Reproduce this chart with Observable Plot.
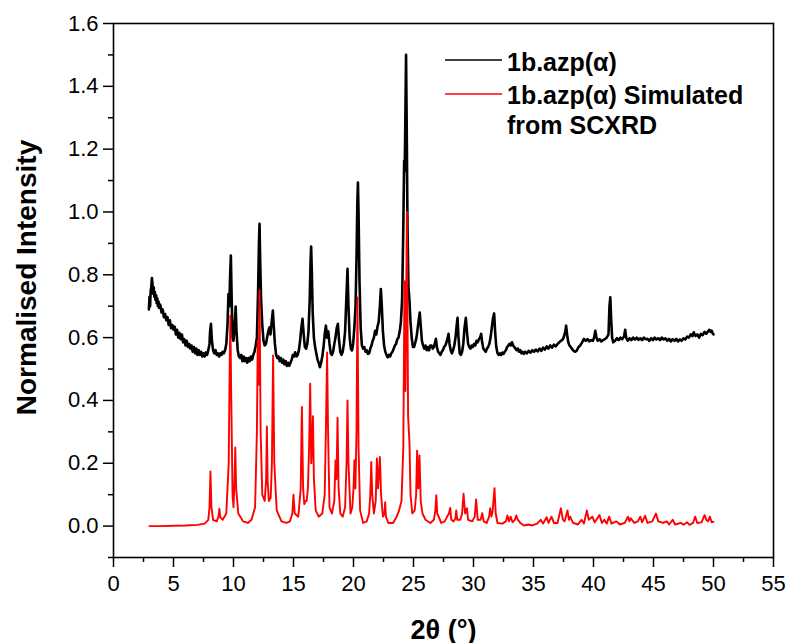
<!DOCTYPE html>
<html>
<head>
<meta charset="utf-8">
<script src="https://cdn.jsdelivr.net/npm/d3@7"></script>
<script src="https://cdn.jsdelivr.net/npm/@observablehq/plot@0.6"></script>
<style>
  html, body { margin: 0; padding: 0; background: #fff; }
  #chart { width: 790px; height: 643px; }
</style>
</head>
<body>
<div id="chart"></div>
<script>
// ---- data (2θ in degrees, normalised intensity) ----
const experimental = [
  [2.95,0.69],[3.0,0.73],[3.05,0.70],[3.1,0.75],[3.15,0.76],[3.2,0.79],[3.25,0.77],[3.3,0.74],[3.35,0.76],[3.4,0.73],
  [3.45,0.745],[3.5,0.72],[3.55,0.735],[3.6,0.71],[3.65,0.725],[3.7,0.70],[3.75,0.715],[3.8,0.695],[3.9,0.705],[4.0,0.68],
  [4.1,0.69],[4.2,0.665],[4.3,0.675],[4.4,0.655],[4.5,0.665],[4.6,0.64],[4.7,0.655],[4.8,0.63],[4.9,0.64],[5.0,0.625],
  [5.1,0.635],[5.2,0.61],[5.3,0.625],[5.4,0.60],[5.5,0.615],[5.6,0.595],[5.7,0.61],[5.8,0.585],[5.9,0.595],[6.0,0.575],
  [6.1,0.59],[6.2,0.57],[6.3,0.58],[6.4,0.565],[6.5,0.575],[6.6,0.555],[6.7,0.57],[6.8,0.55],[6.9,0.565],[7.0,0.545],
  [7.1,0.56],[7.2,0.545],[7.3,0.555],[7.4,0.54],[7.5,0.55],[7.6,0.54],[7.7,0.553],[7.8,0.545],[7.9,0.56],[8.0,0.58],
  [8.05,0.62],[8.12,0.644],[8.2,0.59],[8.3,0.56],[8.4,0.55],[8.5,0.56],[8.6,0.545],[8.7,0.55],[8.8,0.54],[8.9,0.55],
  [9.0,0.545],[9.1,0.555],[9.2,0.55],[9.3,0.56],[9.4,0.58],[9.5,0.64],[9.58,0.739],[9.65,0.70],[9.72,0.80],[9.78,0.861],
  [9.85,0.72],[9.92,0.60],[10.0,0.59],[10.1,0.64],[10.18,0.699],[10.25,0.62],[10.35,0.56],[10.45,0.54],[10.55,0.535],[10.65,0.545],
  [10.75,0.525],[10.85,0.54],[10.95,0.525],[11.05,0.535],[11.15,0.52],[11.25,0.535],[11.35,0.525],[11.45,0.54],[11.55,0.53],[11.65,0.545],
  [11.75,0.555],[11.85,0.575],[11.95,0.60],[12.05,0.75],[12.12,0.90],[12.17,0.962],[12.22,0.85],[12.3,0.72],[12.4,0.64],[12.5,0.59],
  [12.6,0.575],[12.7,0.58],[12.8,0.60],[12.9,0.62],[13.0,0.633],[13.08,0.61],[13.18,0.65],[13.28,0.686],[13.35,0.64],[13.45,0.58],
  [13.55,0.545],[13.65,0.535],[13.75,0.54],[13.85,0.525],[13.95,0.535],[14.05,0.52],[14.15,0.53],[14.25,0.515],[14.35,0.525],[14.45,0.51],
  [14.55,0.52],[14.65,0.51],[14.75,0.52],[14.85,0.53],[14.95,0.545],[15.05,0.54],[15.14,0.553],[15.25,0.54],[15.35,0.545],[15.45,0.56],
  [15.55,0.59],[15.65,0.63],[15.75,0.66],[15.85,0.61],[15.95,0.57],[16.05,0.565],[16.15,0.58],[16.25,0.62],[16.35,0.72],[16.42,0.84],
  [16.47,0.89],[16.52,0.82],[16.6,0.68],[16.7,0.60],[16.8,0.57],[16.9,0.55],[17.0,0.53],[17.1,0.52],[17.2,0.506],[17.3,0.52],
  [17.4,0.54],[17.5,0.57],[17.6,0.61],[17.7,0.638],[17.8,0.60],[17.9,0.62],[18.0,0.58],[18.1,0.55],[18.2,0.545],[18.3,0.555],
  [18.4,0.58],[18.5,0.60],[18.6,0.63],[18.7,0.644],[18.8,0.59],[18.9,0.555],[19.0,0.545],[19.1,0.555],[19.2,0.58],[19.3,0.62],
  [19.4,0.72],[19.5,0.819],[19.58,0.70],[19.68,0.60],[19.78,0.565],[19.87,0.559],[19.97,0.58],[20.07,0.63],[20.17,0.70],[20.25,0.85],
  [20.32,1.03],[20.37,1.094],[20.42,1.0],[20.5,0.78],[20.6,0.63],[20.7,0.575],[20.8,0.565],[20.9,0.57],[21.0,0.555],[21.1,0.56],
  [21.2,0.548],[21.3,0.55],[21.4,0.565],[21.5,0.575],[21.6,0.59],[21.7,0.60],[21.8,0.622],[21.9,0.61],[22.0,0.635],[22.1,0.65],
  [22.2,0.70],[22.28,0.755],[22.36,0.70],[22.45,0.62],[22.55,0.575],[22.65,0.555],[22.75,0.545],[22.85,0.537],[22.95,0.545],[23.05,0.54],
  [23.15,0.55],[23.25,0.555],[23.35,0.565],[23.45,0.575],[23.55,0.58],[23.65,0.595],[23.75,0.60],[23.85,0.62],[23.95,0.65],[24.05,0.72],
  [24.15,0.95],[24.22,1.163],[24.27,1.13],[24.32,1.30],[24.38,1.50],[24.44,1.25],[24.5,0.95],[24.58,0.76],[24.66,0.72],[24.75,0.65],
  [24.85,0.60],[24.95,0.57],[25.05,0.57],[25.15,0.585],[25.25,0.60],[25.35,0.63],[25.45,0.66],[25.52,0.68],[25.6,0.64],[25.7,0.59],
  [25.8,0.575],[25.9,0.565],[26.0,0.575],[26.1,0.56],[26.2,0.57],[26.3,0.56],[26.4,0.575],[26.5,0.575],[26.6,0.565],[26.7,0.57],
  [26.8,0.585],[26.87,0.596],[26.95,0.57],[27.05,0.555],[27.15,0.55],[27.25,0.545],[27.35,0.555],[27.45,0.56],[27.55,0.57],[27.65,0.575],
  [27.75,0.585],[27.85,0.60],[27.92,0.612],[28.0,0.58],[28.1,0.56],[28.2,0.55],[28.3,0.56],[28.4,0.575],[28.5,0.60],[28.6,0.64],
  [28.67,0.663],[28.75,0.60],[28.85,0.55],[28.95,0.545],[29.05,0.555],[29.15,0.58],[29.25,0.63],[29.36,0.663],[29.45,0.62],[29.55,0.58],
  [29.65,0.57],[29.75,0.565],[29.85,0.575],[29.95,0.57],[30.05,0.58],[30.15,0.575],[30.25,0.59],[30.35,0.585],[30.45,0.595],[30.55,0.60],
  [30.64,0.612],[30.72,0.585],[30.82,0.565],[30.92,0.56],[31.02,0.555],[31.12,0.565],[31.22,0.57],[31.32,0.58],[31.42,0.60],[31.52,0.63],
  [31.62,0.66],[31.72,0.677],[31.8,0.62],[31.9,0.57],[32.0,0.55],[32.1,0.545],[32.2,0.55],[32.3,0.545],[32.4,0.552],[32.5,0.548],
  [32.6,0.555],[32.7,0.56],[32.8,0.57],[32.9,0.575],[33.0,0.58],[33.1,0.575],[33.2,0.585],[33.3,0.575],[33.4,0.57],[33.5,0.565],
  [33.6,0.56],[33.7,0.565],[33.8,0.555],[33.9,0.56],[34.0,0.55],[34.1,0.555],[34.2,0.548],[34.3,0.555],[34.45,0.55],[34.6,0.558],
  [34.75,0.552],[34.9,0.56],[35.05,0.555],[35.2,0.562],[35.35,0.556],[35.5,0.565],[35.65,0.558],[35.8,0.568],[35.95,0.562],[36.1,0.572],
  [36.25,0.565],[36.4,0.575],[36.55,0.568],[36.7,0.578],[36.85,0.572],[37.0,0.58],[37.15,0.585],[37.3,0.59],[37.45,0.595],[37.55,0.605],
  [37.65,0.62],[37.72,0.638],[37.8,0.61],[37.9,0.585],[38.0,0.575],[38.1,0.57],[38.2,0.565],[38.3,0.56],[38.45,0.555],[38.6,0.558],
  [38.75,0.57],[38.9,0.575],[39.05,0.585],[39.2,0.596],[39.35,0.59],[39.5,0.595],[39.65,0.588],[39.8,0.592],[39.95,0.59],[40.05,0.60],
  [40.15,0.622],[40.25,0.60],[40.35,0.59],[40.5,0.595],[40.65,0.588],[40.8,0.592],[40.95,0.595],[41.1,0.60],[41.25,0.61],[41.33,0.70],
  [41.4,0.728],[41.47,0.66],[41.55,0.60],[41.65,0.585],[41.8,0.59],[41.95,0.598],[42.1,0.592],[42.25,0.60],[42.4,0.595],[42.55,0.605],
  [42.64,0.625],[42.72,0.60],[42.85,0.59],[43.0,0.598],[43.15,0.592],[43.3,0.60],[43.45,0.594],[43.6,0.60],[43.75,0.593],[43.9,0.598],
  [44.05,0.592],[44.2,0.60],[44.35,0.595],[44.5,0.596],[44.65,0.59],[44.8,0.598],[44.95,0.592],[45.1,0.60],[45.25,0.594],[45.4,0.598],
  [45.55,0.592],[45.7,0.60],[45.85,0.594],[46.0,0.598],[46.15,0.59],[46.3,0.596],[46.45,0.588],[46.6,0.595],[46.75,0.59],[46.9,0.596],
  [47.05,0.588],[47.2,0.594],[47.35,0.59],[47.5,0.598],[47.65,0.594],[47.8,0.603],[47.95,0.60],[48.1,0.61],[48.25,0.605],[48.35,0.617],
  [48.5,0.605],[48.65,0.61],[48.8,0.60],[48.95,0.612],[49.1,0.608],[49.25,0.618],[49.4,0.612],[49.55,0.62],[49.65,0.625],[49.75,0.618],
  [49.85,0.622],[49.95,0.612],[50.0,0.61]
];

const simulated = [
  [3.0,0.0],[4.0,0.0],[5.0,0.001],[6.0,0.002],[7.0,0.004],[7.6,0.008],[7.9,0.02],[8.0,0.06],[8.08,0.174],[8.16,0.06],
  [8.3,0.02],[8.6,0.015],[8.75,0.03],[8.82,0.055],[8.9,0.028],[9.1,0.02],[9.4,0.04],[9.6,0.20],[9.68,0.50],[9.74,0.67],
  [9.8,0.45],[9.92,0.10],[10.0,0.06],[10.08,0.14],[10.15,0.25],[10.22,0.12],[10.4,0.04],[10.8,0.015],[11.2,0.01],[11.5,0.02],
  [11.8,0.06],[11.95,0.30],[12.02,0.59],[12.08,0.45],[12.17,0.75],[12.26,0.30],[12.4,0.10],[12.6,0.08],[12.72,0.15],[12.78,0.317],
  [12.85,0.14],[12.95,0.08],[13.1,0.09],[13.2,0.20],[13.3,0.543],[13.4,0.20],[13.6,0.05],[14.0,0.015],[14.4,0.01],[14.7,0.015],
  [14.9,0.04],[15.0,0.10],[15.1,0.04],[15.4,0.03],[15.6,0.12],[15.7,0.379],[15.8,0.12],[15.9,0.07],[16.0,0.08],[16.1,0.08],
  [16.2,0.12],[16.3,0.25],[16.39,0.453],[16.48,0.20],[16.55,0.25],[16.62,0.35],[16.7,0.15],[16.85,0.05],[17.1,0.03],[17.4,0.04],
  [17.6,0.10],[17.72,0.35],[17.8,0.553],[17.88,0.30],[18.0,0.06],[18.2,0.04],[18.4,0.08],[18.5,0.209],[18.58,0.15],[18.67,0.345],
  [18.76,0.12],[18.9,0.04],[19.1,0.03],[19.3,0.06],[19.42,0.20],[19.5,0.40],[19.58,0.20],[19.75,0.04],[19.9,0.06],[20.0,0.12],
  [20.08,0.21],[20.16,0.12],[20.25,0.30],[20.33,0.728],[20.42,0.25],[20.55,0.05],[20.8,0.01],[21.1,0.015],[21.3,0.04],[21.4,0.10],
  [21.48,0.204],[21.56,0.10],[21.7,0.04],[21.85,0.08],[21.95,0.215],[22.05,0.12],[22.2,0.22],[22.3,0.10],[22.45,0.03],[22.58,0.04],
  [22.64,0.076],[22.7,0.03],[22.9,0.01],[23.3,0.01],[23.6,0.03],[23.8,0.05],[24.0,0.08],[24.15,0.25],[24.25,0.78],[24.33,0.43],
  [24.45,1.0],[24.55,0.35],[24.67,0.26],[24.75,0.10],[24.9,0.04],[25.1,0.05],[25.22,0.10],[25.3,0.24],[25.4,0.12],[25.5,0.225],
  [25.6,0.08],[25.75,0.04],[26.0,0.02],[26.4,0.01],[26.7,0.02],[26.82,0.05],[26.9,0.098],[26.98,0.04],[27.1,0.03],[27.3,0.01],
  [27.6,0.015],[27.8,0.03],[27.95,0.04],[28.06,0.058],[28.15,0.02],[28.35,0.015],[28.5,0.025],[28.56,0.05],[28.65,0.02],[28.9,0.02],
  [29.05,0.04],[29.17,0.103],[29.3,0.04],[29.45,0.057],[29.55,0.02],[29.9,0.015],[30.1,0.03],[30.22,0.085],[30.35,0.02],[30.6,0.02],
  [30.73,0.041],[30.85,0.015],[31.1,0.01],[31.3,0.03],[31.39,0.057],[31.5,0.03],[31.6,0.05],[31.75,0.121],[31.85,0.04],[32.0,0.01],
  [32.4,0.008],[32.7,0.015],[32.83,0.034],[32.95,0.015],[33.1,0.03],[33.25,0.012],[33.45,0.02],[33.56,0.034],[33.7,0.02],[33.9,0.01],
  [34.2,0.002],[34.6,0.005],[34.9,0.002],[35.3,0.008],[35.6,0.02],[35.8,0.008],[36.1,0.028],[36.25,0.01],[36.5,0.03],[36.7,0.01],
  [37.0,0.01],[37.28,0.057],[37.45,0.02],[37.6,0.015],[37.83,0.05],[37.95,0.02],[38.05,0.03],[38.3,0.01],[38.7,0.005],[39.0,0.02],
  [39.2,0.008],[39.45,0.05],[39.6,0.02],[39.9,0.03],[40.1,0.012],[40.5,0.035],[40.7,0.01],[40.9,0.02],[41.1,0.008],[41.3,0.03],
  [41.5,0.008],[41.9,0.015],[42.2,0.005],[42.6,0.01],[42.87,0.03],[43.0,0.015],[43.1,0.025],[43.4,0.01],[43.7,0.015],[43.9,0.03],
  [44.05,0.012],[44.3,0.033],[44.5,0.01],[44.9,0.015],[45.2,0.04],[45.4,0.015],[45.8,0.01],[46.1,0.015],[46.3,0.005],[46.6,0.02],
  [46.8,0.005],[47.3,0.01],[47.5,0.004],[47.8,0.012],[48.0,0.004],[48.3,0.01],[48.47,0.03],[48.65,0.01],[49.0,0.012],[49.25,0.035],
  [49.4,0.02],[49.55,0.015],[49.7,0.03],[49.85,0.012],[50.0,0.014]
];

const xMajorTicks = [0, 5, 10, 15, 20, 25, 30, 35, 40, 45, 50, 55];
const xMinorTicks = [2.5, 7.5, 12.5, 17.5, 22.5, 27.5, 32.5, 37.5, 42.5, 47.5, 52.5];
const yMajorTicks = [0.0, 0.2, 0.4, 0.6, 0.8, 1.0, 1.2, 1.4, 1.6];
const yMinorTicks = [-0.1, 0.1, 0.3, 0.5, 0.7, 0.9, 1.1, 1.3, 1.5];

const seriesNames = ["1b.azp(\u03b1)", "1b.azp(\u03b1) Simulated", "from SCXRD"];
const seriesColors = ["#000000", "#ff0000"];
const xTitle = "2\u03b8 (\u00b0)";
const yTitle = "Normalised Intensity";

const FONT = "'Liberation Sans', Arial, Helvetica, sans-serif";
const yFmt = d3.format(".1f");

const chart = Plot.plot({
  width: 790,
  height: 643,
  marginLeft: 113,
  marginRight: 17,
  marginTop: 23,
  marginBottom: 86,
  style: { fontFamily: FONT, fontSize: "22px", background: "#fff", color: "#000", overflow: "visible" },
  x: { domain: [0, 55] },
  y: { domain: [-0.1, 1.6] },
  marks: [
    Plot.line(experimental, { x: d => d[0], y: d => d[1], stroke: seriesColors[0], strokeWidth: 2.6, strokeLinejoin: "round" }),
    Plot.line(simulated, { x: d => d[0], y: d => d[1], stroke: seriesColors[1], strokeWidth: 1.9, strokeLinejoin: "round" }),
    Plot.frame({ stroke: "#000", strokeWidth: 1.6 }),
    Plot.axisX(xMajorTicks, { tickSize: 10, tickPadding: 8, fontSize: 22, strokeWidth: 1.5, label: null, tickFormat: d => String(d) }),
    Plot.axisX(xMinorTicks, { tickSize: 5, strokeWidth: 1.5, label: null, tickFormat: () => "" }),
    Plot.axisY(yMajorTicks, { tickSize: 10, tickPadding: 5, fontSize: 22, strokeWidth: 1.5, label: null, tickFormat: yFmt }),
    Plot.axisY(yMinorTicks, { tickSize: 5, strokeWidth: 1.5, label: null, tickFormat: () => "" }),
    Plot.text([xTitle], { text: d => d, frameAnchor: "bottom", lineAnchor: "bottom", dy: 81, fontSize: 27, fontWeight: "bold" }),
    Plot.text([yTitle], { text: d => d, frameAnchor: "left", textAnchor: "middle", rotate: -90, dx: -86, dy: -13, fontSize: 28, fontWeight: "bold" })
  ]
});

document.getElementById("chart").appendChild(chart);

const svg = d3.select(chart);

// make sure tick labels get the intended size
const tickTexts = new Set([...xMajorTicks.map(String), ...yMajorTicks.map(yFmt)]);
svg.selectAll("text").filter(function () { return tickTexts.has(this.textContent); })
  .style("font-size", "22px").style("font-weight", "normal");

// ---- legend (layout element, drawn in screen space) ----
const lg = svg.append("g")
  .attr("font-family", FONT).attr("font-weight", "bold").attr("font-size", 25)
  .attr("fill", "#000").attr("text-anchor", "start");
lg.append("line").attr("x1", 445).attr("x2", 502).attr("y1", 60).attr("y2", 60).attr("stroke", seriesColors[0]).attr("stroke-width", 1.6);
lg.append("line").attr("x1", 445).attr("x2", 502).attr("y1", 94).attr("y2", 94).attr("stroke", seriesColors[1]).attr("stroke-width", 1.6);
lg.append("text").attr("x", 507).attr("y", 71).text(seriesNames[0]);
lg.append("text").attr("x", 507).attr("y", 103.5).text(seriesNames[1]);
lg.append("text").attr("x", 507).attr("y", 134).text(seriesNames[2]);
</script>
</body>
</html>
